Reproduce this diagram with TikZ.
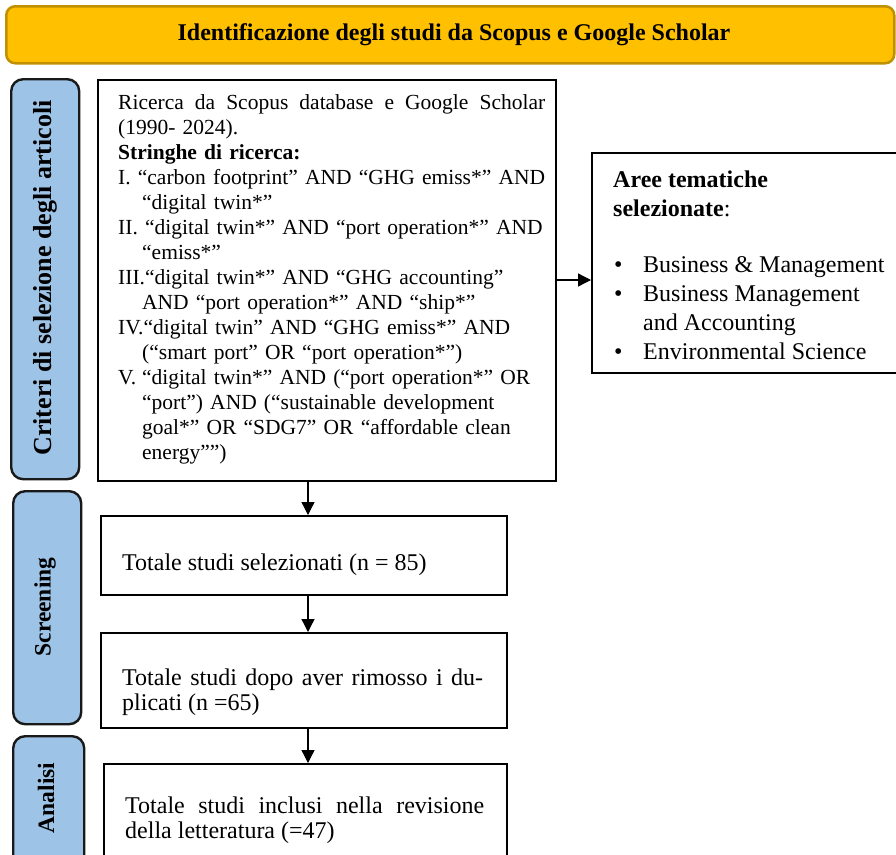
\documentclass[tikz,border=0pt]{standalone}
\usepackage{fontspec}
\setmainfont{Liberation Serif}
\usetikzlibrary{arrows.meta,calc}
\definecolor{gold}{HTML}{FFC000}
\definecolor{golddark}{HTML}{BF9000}
\definecolor{lblue}{HTML}{9DC3E6}
\newcommand{\hng}{\hspace*{24pt}}
\begin{document}
\begin{tikzpicture}[x=1pt,y=-1pt,
 box/.style={draw=black, line width=2.4pt, fill=white, inner sep=0pt},
 side/.style={draw=black!90, line width=2.4pt, fill=lblue, rounded corners=12pt, inner sep=0pt},
 sidetxt/.style={rotate=90, inner sep=0pt},
 txt/.style={inner sep=0pt, align=left},
 arr/.style={line width=1.3pt, -{Triangle[length=13pt,width=13pt]}}]
\useasboundingbox (0,0) rectangle (896,854);
% banner
\node[draw=golddark, line width=2.5pt, fill=gold, rounded corners=9pt, minimum width=888pt, minimum height=57pt, anchor=north west, inner sep=0pt] (ban) at (5,5) {};
\node[font=\bfseries\fontsize{24}{29}\selectfont, inner sep=0pt] (title) at (454,35) {Identificazione degli studi da Scopus e Google Scholar};
% side labels
\node[side, minimum width=68pt, minimum height=400pt, anchor=north west] (s1) at (10,78) {};
\node[sidetxt, font=\bfseries\fontsize{26}{30}\selectfont] (s1t) at (45,278) {Criteri di selezione degli articoli};
\node[side, minimum width=68pt, minimum height=233pt, anchor=north west] (s2) at (12,490) {};
\node[sidetxt, font=\bfseries\fontsize{23.5}{28}\selectfont] (s2t) at (45,607) {Screening};
\node[side, minimum width=71pt, minimum height=150pt, anchor=north west] (s3) at (12,735) {};
\node[sidetxt, font=\bfseries\fontsize{23.5}{28}\selectfont] (s3t) at (46,798) {Analisi};
% main box
\node[box, minimum width=458pt, minimum height=401pt, anchor=north west] (main) at (97,79) {};
\node[txt, anchor=west, text width=436pt, font=\fontsize{21.5}{25}\selectfont] (maint) at ([xshift=21pt,yshift=1pt]main.west) {%
\makebox[427pt][l]{Ricerca\hfill da\hfill Scopus\hfill database\hfill e\hfill Google\hfill Scholar}\\
(1990- 2024).\\
\textbf{Stringhe di ricerca:}\\
I. “carbon footprint” AND “GHG emiss*” AND\\
\hng“digital twin*”\\
II. “digital twin*” AND “port operation*” AND\\
\hng“emiss*”\\
III.“digital twin*” AND “GHG accounting”\\
\hng AND “port operation*” AND “ship*”\\
IV.“digital twin” AND “GHG emiss*” AND\\
\hng(“smart port” OR “port operation*”)\\
\makebox[24pt][l]{V.}“digital twin*” AND (“port operation*” OR\\
\hng“port”) AND (“sustainable development\\
\hng goal*” OR “SDG7” OR “affordable clean\\
\hng energy””)};
% right box
\node[box, minimum width=320pt, minimum height=220pt, anchor=north west] (right) at (591,152) {};
\node[txt, anchor=north west, font=\fontsize{24}{29}\selectfont] (rightt) at (613,171) {%
\textbf{Aree tematiche}\\
\textbf{selezionate}:\\[27pt]
\makebox[30pt][l]{\hspace{1pt}•}Business \& Management\\
\makebox[30pt][l]{\hspace{1pt}•}Business Management\\
\hspace*{30pt}and Accounting\\
\makebox[30pt][l]{\hspace{1pt}•}Environmental Science};
% lower boxes
\node[box, minimum width=406pt, minimum height=79pt, anchor=north west] (b1) at (100,515) {};
\node[txt, anchor=west, font=\fontsize{24}{25}\selectfont] (b1t) at (122,565) {Totale studi selezionati (n = 85)};
\node[box, minimum width=406pt, minimum height=95pt, anchor=north west] (b2) at (100,632) {};
\node[txt, anchor=north west, font=\fontsize{24}{25}\selectfont] (b2t) at (122,669) {\makebox[361pt][s]{Totale studi dopo aver rimosso i du-}\\plicati (n =65)};
\node[box, minimum width=403pt, minimum height=120pt, anchor=north west] (b3) at (103,763) {};
\node[txt, anchor=north west, font=\fontsize{24}{25}\selectfont] (b3t) at (125,797) {\makebox[359pt][s]{Totale studi inclusi nella revisione}\\della letteratura (=47)};
% arrows
\coordinate (ax) at (308,0);
\coordinate (ay) at (0,280);
\draw[arr] (main.south -| ax) -- (b1.north -| ax);
\draw[arr] (b1.south -| ax) -- (b2.north -| ax);
\draw[arr] (b2.south -| ax) -- (b3.north -| ax);
\draw[arr] (main.east |- ay) -- (right.west |- ay);
\end{tikzpicture}
\end{document}
